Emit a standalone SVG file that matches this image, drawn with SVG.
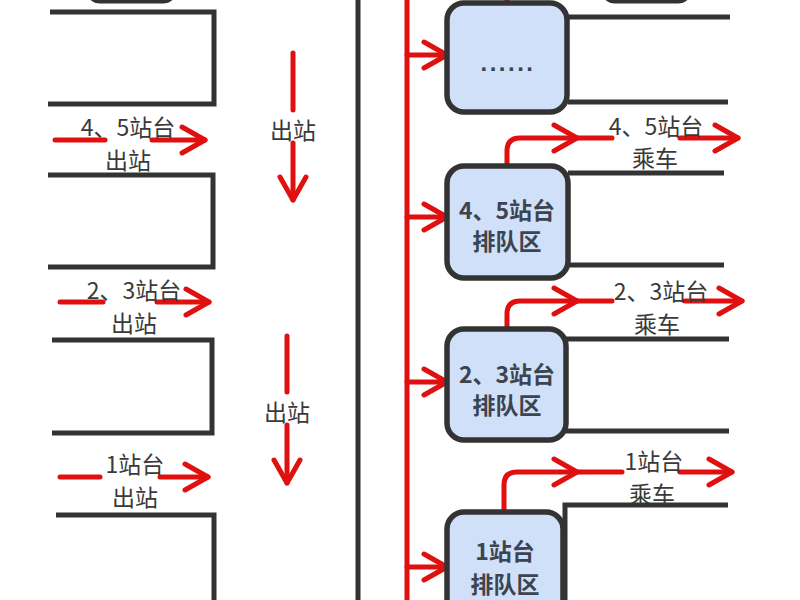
<svg xmlns="http://www.w3.org/2000/svg" width="800" height="600" viewBox="0 0 800 600">
<style>
.wall{fill:none;stroke:#333;stroke-width:5;stroke-linejoin:miter}
.red{fill:none;stroke:#e01010;stroke-width:5;stroke-linecap:round;stroke-linejoin:round}
.node{fill:#cfe0f8;stroke:#333;stroke-width:5.5}
.lbl{font-family:"Noto Sans CJK SC","Noto Sans",sans-serif;font-size:23px;fill:#3a3a3a;text-anchor:middle;dominant-baseline:central}
.ntxt{font-family:"Noto Sans CJK SC","Noto Sans",sans-serif;font-size:23px;font-weight:bold;fill:#3c4450;text-anchor:middle;dominant-baseline:central}
.dots{font-family:"Liberation Sans",sans-serif;font-size:24px;font-weight:bold;fill:#3c4450;text-anchor:middle;letter-spacing:2.5px}
</style>
<defs>
<marker id="ah" viewBox="-28 -17 32 34" refX="0" refY="0" markerWidth="32" markerHeight="34" markerUnits="userSpaceOnUse" orient="auto">
<path d="M-23,-13 L0,0 L-23,13" fill="none" stroke="#e01010" stroke-width="5" stroke-linecap="round" stroke-linejoin="round"/>
</marker>
</defs>
<rect width="800" height="600" fill="#fff"/>

<g id="walls">
<path class="wall" d="M50,12 H214 V104 H48"/>
<path class="wall" d="M48,175 H213 V267 H48"/>
<path class="wall" d="M52,340 H212 V433 H52"/>
<path class="wall" d="M56,515 H214 V600"/>
<path class="wall" d="M358,0 V600"/>
<path class="wall" d="M568,17 H730 M568,102 H728"/>
<path class="wall" d="M568,173 H724 M568,265 H724"/>
<path class="wall" d="M566,339 H729 M566,431 H729"/>
<path class="wall" d="M728,505 H565 V600"/>
<rect class="wall" x="88" y="-40" width="87" height="41" rx="12"/>
<rect class="wall" x="603" y="-40" width="87" height="41" rx="12"/>
</g>

<g id="connectors">
<path class="red" d="M407,-5 V605"/>
<path class="red" d="M507,3 V-5"/>
<path class="red" d="M407,55 H447" marker-end="url(#ah)"/>
<path class="red" d="M407,217 H447" marker-end="url(#ah)"/>
<path class="red" d="M407,382 H447" marker-end="url(#ah)"/>
<path class="red" d="M407,567 H447" marker-end="url(#ah)"/>

<path class="red" d="M507,165 V151 Q507,138 520,138 H577" marker-end="url(#ah)"/>
<path class="red" d="M577,138 H612"/>
<path class="red" d="M680,138 H738" marker-end="url(#ah)"/>

<path class="red" d="M507,328 V314 Q507,301 520,301 H577" marker-end="url(#ah)"/>
<path class="red" d="M577,301 H612"/>
<path class="red" d="M685,301 H742" marker-end="url(#ah)"/>

<path class="red" d="M504,512 V485 Q504,472 517,472 H577" marker-end="url(#ah)"/>
<path class="red" d="M577,472 H622"/>
<path class="red" d="M680,472 H732" marker-end="url(#ah)"/>

<path class="red" d="M55,140 H105"/>
<path class="red" d="M152,140 H205" marker-end="url(#ah)"/>
<path class="red" d="M60,302 H103"/>
<path class="red" d="M157,302 H209" marker-end="url(#ah)"/>
<path class="red" d="M60,477 H100"/>
<path class="red" d="M160,477 H208" marker-end="url(#ah)"/>

<path class="red" d="M293,53 V110"/>
<path class="red" d="M293,143 V200" marker-end="url(#ah)"/>
<path class="red" d="M287,336 V392"/>
<path class="red" d="M287,425 V483" marker-end="url(#ah)"/>
</g>

<g id="labels">
<text class="lbl" x="128" y="126">4、5站台</text>
<text class="lbl" x="128" y="159">出站</text>
<text class="lbl" x="134" y="289">2、3站台</text>
<text class="lbl" x="134" y="322">出站</text>
<text class="lbl" x="135" y="463">1站台</text>
<text class="lbl" x="135" y="496">出站</text>
<text class="lbl" x="293" y="129">出站</text>
<text class="lbl" x="287" y="411">出站</text>
<text class="lbl" x="656" y="125">4、5站台</text>
<text class="lbl" x="655" y="157">乘车</text>
<text class="lbl" x="661" y="290">2、3站台</text>
<text class="lbl" x="657" y="323">乘车</text>
<text class="lbl" x="654" y="460">1站台</text>
<text class="lbl" x="652" y="493">乘车</text>
</g>

<g id="node-dots">
<rect class="node" x="447" y="3" width="120" height="109" rx="17"/>
<text class="dots" x="508" y="71">......</text>
</g>
<g id="node-45">
<rect class="node" x="447" y="166" width="121" height="112" rx="17"/>
<text class="ntxt" x="507" y="209">4、5站台</text>
<text class="ntxt" x="507" y="240">排队区</text>
</g>
<g id="node-23">
<rect class="node" x="447" y="329" width="119" height="111" rx="17"/>
<text class="ntxt" x="507" y="373">2、3站台</text>
<text class="ntxt" x="507" y="404">排队区</text>
</g>
<g id="node-1">
<rect class="node" x="447" y="512" width="116" height="128" rx="17"/>
<text class="ntxt" x="505" y="550">1站台</text>
<text class="ntxt" x="505" y="583">排队区</text>
</g>
</svg>
